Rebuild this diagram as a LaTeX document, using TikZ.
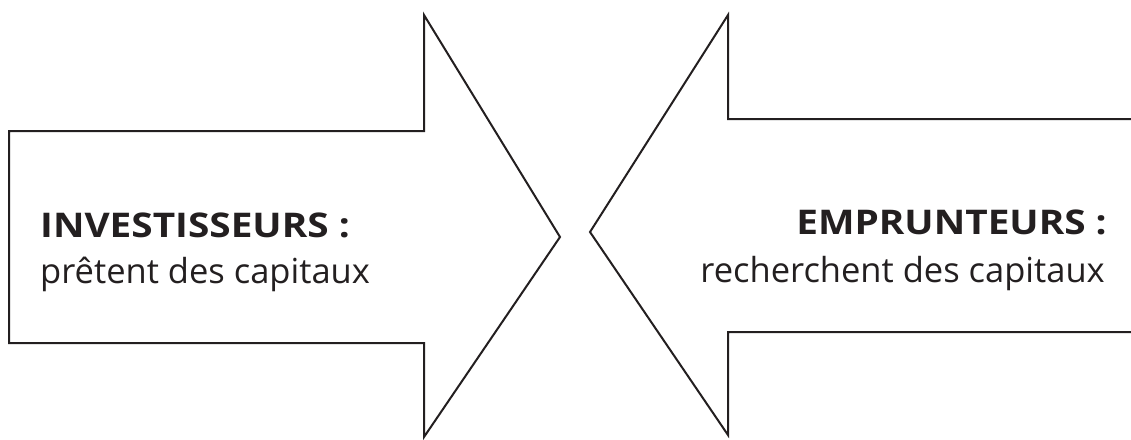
\documentclass[tikz,border=0pt]{standalone}
\usepackage{fontspec}
\setmainfont{Open Sans}
\usepackage{xcolor}
\definecolor{arrowline}{RGB}{35,31,32}
\usetikzlibrary{positioning}

\begin{document}
\begin{tikzpicture}[x=1pt, y=-1pt,
  arrowshape/.style={draw=arrowline, line width=2pt, line join=miter},
  headtext/.style={font=\fontsize{34}{38}\selectfont\bfseries\addfontfeatures{FakeStretch=1.14}, text=arrowline, inner sep=0pt},
  subtext/.style={font=\fontsize{34.5}{38}\selectfont, text=arrowline, inner sep=0pt}]

\useasboundingbox (0,0) rectangle (1131,439);

% --- Left arrow: investors ---
\draw[arrowshape] (9,131) -- (424,131) -- (424,15) -- (560,237)
     -- (424,437) -- (424,343) -- (9,343) -- cycle;
\node[headtext, anchor=base west] (invtitle) at (40,237) {INVESTISSEURS :};
\node[subtext, anchor=base west] (invtext) at (40,283) {prêtent des capitaux};

% --- Right arrow: borrowers ---
\draw[arrowshape] (1135,119) -- (728,119) -- (728,15) -- (590,232)
     -- (728,435) -- (728,332) -- (1135,332);
\node[headtext, anchor=base east] (emptitle) at (1107,234) {EMPRUNTEURS :};
\node[subtext, anchor=base east] (emptext) at (1105,282) {recherchent des capitaux};

\end{tikzpicture}
\end{document}
